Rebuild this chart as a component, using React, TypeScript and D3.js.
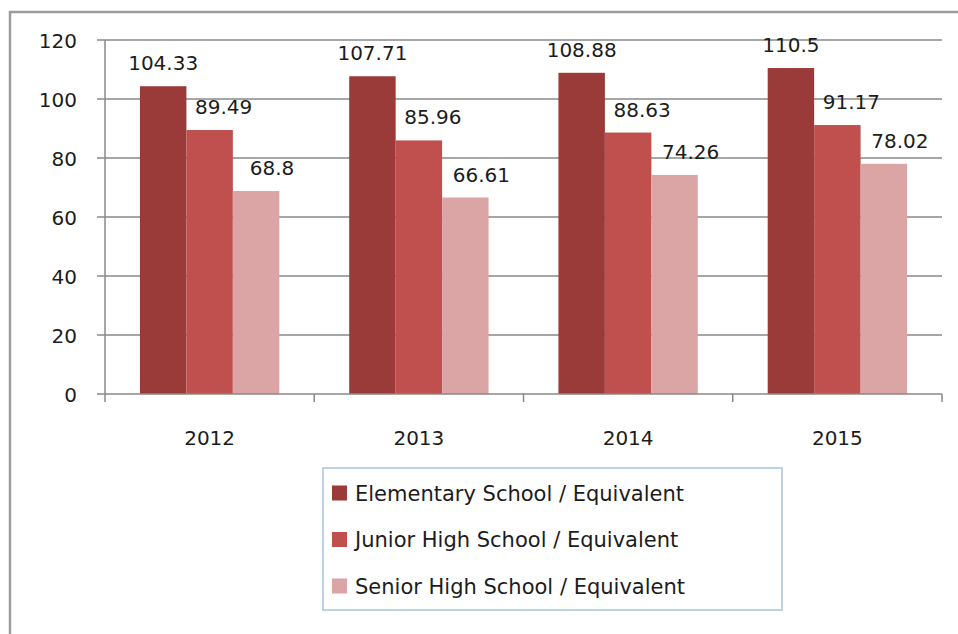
import React from "react";
import * as d3 from "d3";

const years = ["2012", "2013", "2014", "2015"];
const seriesNames = [
  "Elementary School / Equivalent",
  "Junior High School / Equivalent",
  "Senior High School / Equivalent",
];
const elementary = [104.33, 107.71, 108.88, 110.5];
const juniorHigh = [89.49, 85.96, 88.63, 91.17];
const seniorHigh = [68.8, 66.61, 74.26, 78.02];
const yTicks = [0, 20, 40, 60, 80, 100, 120];
const colors = ["#9a3b3a", "#c0504d", "#dba4a5"];

const W = 958;
const H = 634;
const plot = { left: 105, right: 942, top: 40, bottom: 394 };
const numFont = "'DejaVu Sans', sans-serif";
const legFont = "'DejaVu Sans', sans-serif";
const textColor = "#1c1c1c";
const labelDx = [0, 14, 16];

export default function App() {
  const series = [elementary, juniorHigh, seniorHigh];
  const y = d3.scaleLinear().domain([0, 120]).range([plot.bottom, plot.top]);
  const x0 = d3.scaleBand().domain(years).range([plot.left, plot.right]).padding(0);
  const bw = x0.bandwidth();
  const x1 = d3
    .scaleBand()
    .domain(seriesNames)
    .range([bw * 0.167, bw * 0.833])
    .padding(0);
  const boundaries = years.map((yr) => x0(yr) as number).concat([plot.right]);

  return (
    <svg
      width={W}
      height={H}
      style={{ position: "absolute", left: 0, top: 0, background: "#fff" }}
    >
      <rect x={0} y={0} width={W} height={H} fill="#fff" />
      <rect x={10} y={12} width={W + 10} height={H + 10} fill="none" stroke="#9c9c9c" strokeWidth={2.5} />

      {/* gridlines */}
      {yTicks.filter((t) => t > 0).map((t) => (
        <line key={t} x1={plot.left} x2={plot.right} y1={y(t)} y2={y(t)} stroke="#888" strokeWidth={1.5} />
      ))}
      {/* y axis */}
      <line x1={plot.left} x2={plot.left} y1={plot.top} y2={plot.bottom} stroke="#888" strokeWidth={1.5} />
      {yTicks.map((t) => (
        <g key={"yt" + t}>
          <line x1={plot.left - 8} x2={plot.left} y1={y(t)} y2={y(t)} stroke="#888" strokeWidth={1.5} />
          <text x={77} y={y(t) + 7.5} textAnchor="end" fontFamily={numFont} fontSize={20} fill={textColor}>
            {t}
          </text>
        </g>
      ))}

      {/* bars */}
      {years.map((yr, i) => (
        <g key={yr} transform={`translate(${x0(yr)},0)`}>
          {series.map((vals, s) => (
            <rect
              key={s}
              x={x1(seriesNames[s])}
              y={y(vals[i])}
              width={x1.bandwidth()}
              height={y(0) - y(vals[i])}
              fill={colors[s]}
            />
          ))}
          {series.map((vals, s) => (
            <text
              key={"l" + s}
              x={(x1(seriesNames[s]) as number) + x1.bandwidth() / 2 + labelDx[s]}
              y={y(vals[i]) - 16}
              textAnchor="middle"
              fontFamily={numFont}
              fontSize={20}
              fill={textColor}
            >
              {vals[i]}
            </text>
          ))}
        </g>
      ))}

      {/* x axis */}
      <line x1={plot.left} x2={plot.right} y1={plot.bottom} y2={plot.bottom} stroke="#888" strokeWidth={1.5} />
      {boundaries.map((b, i) => (
        <line key={"xt" + i} x1={b} x2={b} y1={plot.bottom} y2={plot.bottom + 8} stroke="#888" strokeWidth={1.5} />
      ))}
      {years.map((yr) => (
        <text
          key={"xl" + yr}
          x={(x0(yr) as number) + bw / 2}
          y={445}
          textAnchor="middle"
          fontFamily={numFont}
          fontSize={20}
          fill={textColor}
        >
          {yr}
        </text>
      ))}

      {/* legend */}
      <rect x={323} y={468} width={459} height={142} fill="#fff" stroke="#a9c2e2" strokeWidth={1.5} />
      {seriesNames.map((name, s) => (
        <g key={name} transform={`translate(332,${493 + s * 46.5})`}>
          <rect x={0} y={-7.5} width={15} height={15} fill={colors[s]} />
          <text x={23} y={7.5} fontFamily={legFont} fontSize={21} fill={textColor}>
            {name}
          </text>
        </g>
      ))}
    </svg>
  );
}
